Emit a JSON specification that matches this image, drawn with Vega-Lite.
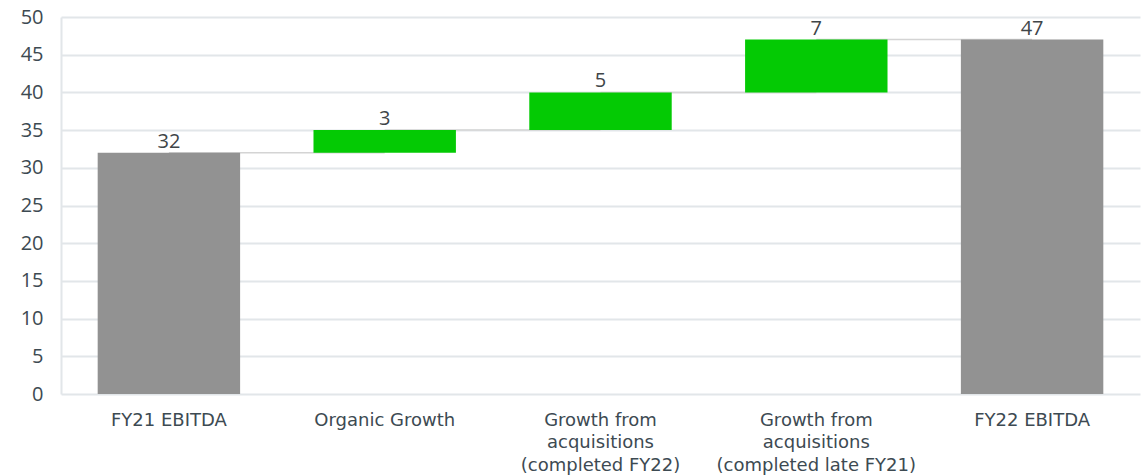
{
  "$schema": "https://vega.github.io/schema/vega-lite/v6.json",
  "width": 1079,
  "height": 377,
  "autosize": {"type": "none"},
  "padding": {"left": 61, "top": 17, "right": 4, "bottom": 81},
  "background": "white",
  "data": {
    "values": [
      {"cat": "FY21 EBITDA", "start": 0, "end": 32, "label": "32", "kind": "total", "next": "Organic Growth"},
      {"cat": "Organic Growth", "start": 32, "end": 35, "label": "3", "kind": "delta", "next": "Growth from|acquisitions|(completed FY22)"},
      {"cat": "Growth from|acquisitions|(completed FY22)", "start": 35, "end": 40, "label": "5", "kind": "delta", "next": "Growth from|acquisitions|(completed late FY21)"},
      {"cat": "Growth from|acquisitions|(completed late FY21)", "start": 40, "end": 47, "label": "7", "kind": "delta", "next": "FY22 EBITDA"},
      {"cat": "FY22 EBITDA", "start": 0, "end": 47, "label": "47", "kind": "total", "next": null}
    ]
  },
  "config": {
    "view": {"stroke": null},
    "axis": {"labelFont": "Open Sans", "titleFont": "Open Sans"}
  },
  "encoding": {
    "x": {
      "field": "cat",
      "type": "nominal",
      "sort": null,
      "scale": {"paddingInner": 0.34, "paddingOuter": 0.17},
      "axis": {
        "title": null,
        "domain": false,
        "ticks": false,
        "labelAngle": 0,
        "labelExpr": "split(datum.value, '|')",
        "labelFont": "DejaVu Sans",
        "labelFontSize": 18,
        "labelColor": "#3d4a52",
        "labelBaseline": "top",
        "labelPadding": 17,
        "labelLineHeight": 22.5,
        "labelLimit": 300
      }
    },
    "y": {
      "field": "end",
      "type": "quantitative",
      "scale": {"domain": [0, 50]},
      "axis": {
        "title": null,
        "values": [0, 5, 10, 15, 20, 25, 30, 35, 40, 45, 50],
        "labelOverlap": false,
        "ticks": false,
        "labelPadding": 18,
        "labelFontSize": 20,
        "labelColor": "#3d4a52",
        "gridColor": "#e2e6e9",
        "gridWidth": 2,
        "domainColor": "#e2e6e9",
        "domainWidth": 2
      }
    }
  },
  "layer": [
    {
      "transform": [{"filter": "datum.next != null"}],
      "mark": {"type": "rule", "color": "#d4d4d4", "strokeWidth": 1.5},
      "encoding": {
        "x2": {"field": "next"}
      }
    },
    {
      "mark": {"type": "bar"},
      "encoding": {
        "y2": {"field": "start"},
        "color": {
          "field": "kind",
          "type": "nominal",
          "scale": {"domain": ["total", "delta"], "range": ["#929292", "#04ca04"]},
          "legend": null
        }
      }
    },
    {
      "mark": {"type": "text", "baseline": "bottom", "dy": -1, "font": "Open Sans", "fontSize": 20, "color": "#404548"},
      "encoding": {
        "text": {"field": "label"}
      }
    }
  ]
}
